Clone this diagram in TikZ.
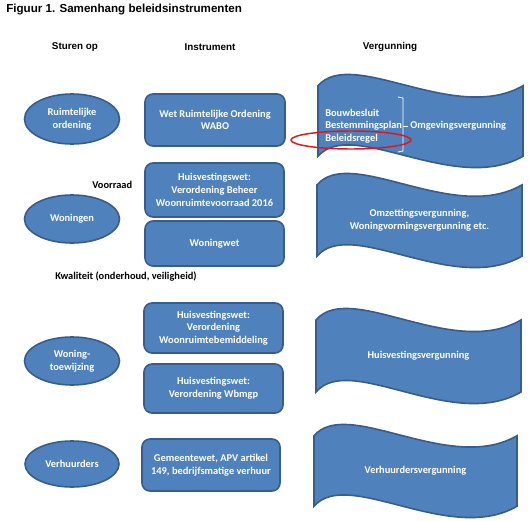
\documentclass[tikz,border=0pt]{standalone}
\usepackage{fontspec}
\setmainfont{Carlito}
\newfontfamily\arialfont{Liberation Sans}
\usetikzlibrary{shapes.geometric}
\definecolor{obfill}{HTML}{4F81BD}
\definecolor{obline}{HTML}{385D8A}
\definecolor{redring}{HTML}{E0161C}
\tikzset{
  nodefont/.style={font=\bfseries\fontsize{7.8}{9.5}\selectfont},
  ellbox/.style={ellipse, draw=obline, fill=obfill, line width=1.2pt, text=white, nodefont, align=center, inner sep=0pt},
  instbox/.style={rectangle, rounded corners=6pt, draw=obline, fill=obfill, line width=1.2pt, text=white, nodefont, align=center, inner sep=0pt},
  wavebox/.style={draw=obline, fill=obfill, line width=1.2pt},
  wavetext/.style={text=white, nodefont, align=center, inner sep=0pt},
  plainlabel/.style={text=black, nodefont, inner sep=0pt},
  headlabel/.style={text=black, font=\arialfont\bfseries\fontsize{7.4}{9}\selectfont, inner sep=0pt},
}
\newcommand\drawwave[5]{%
  \pgfmathsetmacro\wl{#2}\pgfmathsetmacro\wt{#3}\pgfmathsetmacro\wr{#4}\pgfmathsetmacro\wb{#5}%
  \pgfmathsetmacro\wya{0.125*(\wb-\wt)}%
  \pgfmathsetmacro\wda{\wya*10/3}%
  \pgfmathsetmacro\yone{\wt+\wya}%
  \pgfmathsetmacro\ytwo{\yone-\wda}%
  \pgfmathsetmacro\ythree{\yone+\wda}%
  \pgfmathsetmacro\yfour{\wb-\wya}%
  \pgfmathsetmacro\yfive{\yfour-\wda}%
  \pgfmathsetmacro\ysix{\yfour+\wda}%
  \pgfmathsetmacro\xthree{\wl+(\wr-\wl)/6}%
  \pgfmathsetmacro\xfour{\wl+(\wr-\wl)*2/3}%
  \draw[wavebox] (\wl,\yone) .. controls (\xthree,\ytwo) and (\xfour,\ythree) .. (\wr,\yone)
     -- (\wr,\yfour) .. controls (\xfour,\ysix) and (\xthree,\yfive) .. (\wl,\yfour) -- cycle;
  \coordinate (#1) at ({(\wl+\wr)/2},{(\wt+\wb)/2});
}
\begin{document}
\begin{tikzpicture}[x=0.75pt,y=-0.75pt]
\useasboundingbox (0,0) rectangle (529,521);
\fill[white] (0,0) rectangle (529,521);

% title and headers
\node[headlabel, font=\arialfont\bfseries\fontsize{8.7}{10}\selectfont, anchor=west] (title) at (6,10) {Figuur 1. Samenhang beleidsinstrumenten};
\node[headlabel] (h1) at (75,47) {Sturen op};
\node[headlabel] (h2) at (210,47) {Instrument};
\node[headlabel] (h3) at (390,47) {Vergunning};

% ellipses
\node[ellbox, minimum width=71.25pt, minimum height=37.5pt] (e1) at (72,119) {Ruimtelijke\\ordening};
\node[ellbox, minimum width=71.25pt, minimum height=36pt] (e2) at (72,219) {Woningen};
\node[ellbox, minimum width=71.25pt, minimum height=36pt] (e3) at (72,361) {Woning-\\toewijzing};
\node[ellbox, minimum width=70.5pt, minimum height=34.5pt] (e4) at (72,464) {Verhuurders};

% instrument boxes
\node[instbox, minimum width=105pt, minimum height=39pt] (r1) at (215,120) {Wet Ruimtelijke Ordening\\WABO};
\node[instbox, minimum width=104.25pt, minimum height=40.5pt] (r2) at (214.5,190) {Huisvestingswet:\\Verordening Beheer\\Woonruimtevoorraad 2016};
\node[instbox, minimum width=104.25pt, minimum height=33.75pt] (r3) at (214.5,243.5) {Woningwet};
\node[instbox, minimum width=104.25pt, minimum height=37.5pt] (r4) at (213.5,328) {Huisvestingswet:\\Verordening\\Woonruimtebemiddeling};
\node[instbox, minimum width=104.25pt, minimum height=36.75pt] (r5) at (213.5,388.5) {Huisvestingswet:\\Verordening Wbmgp};
\node[instbox, minimum width=103.5pt, minimum height=39pt] (r6) at (211,465) {Gemeentewet, APV artikel\\149, bedrijfsmatige verhuur};

% side labels
\node[plainlabel, anchor=west] (voorraad) at (92,185) {Voorraad};
\node[plainlabel, anchor=west] (kwal) at (55,277) {Kwaliteit (onderhoud, veiligheid)};

% waves
\drawwave{w1}{318}{74}{523}{168}
\drawwave{w2}{317}{173}{522}{268}
\drawwave{w3}{316}{308}{521}{404}
\drawwave{w4}{314}{424}{517}{518}

\node[wavetext, align=left, anchor=west] (w1list) at (325,126) {Bouwbesluit\\Bestemmingsplan\\Beleidsregel};
\node[wavetext, anchor=west] (w1t) at (410,126) {Omgevingsvergunning};
\draw[white, line width=0.6pt] (398,97) -- (403,98) -- (403,151) -- (398,152);
\draw[white, line width=0.6pt] (403,126) -- (408,126);
\node[ellipse, draw=redring, line width=1.1pt, minimum width=90pt, minimum height=13.5pt, inner sep=0pt] (ring) at (351,140) {};

\node[wavetext] (w2t) at (w2) {Omzettingsvergunning,\\Woningvormingsvergunning etc.};
\node[wavetext] (w3t) at (w3) {Huisvestingsvergunning};
\node[wavetext] (w4t) at (w4) {Verhuurdersvergunning};
\end{tikzpicture}
\end{document}
